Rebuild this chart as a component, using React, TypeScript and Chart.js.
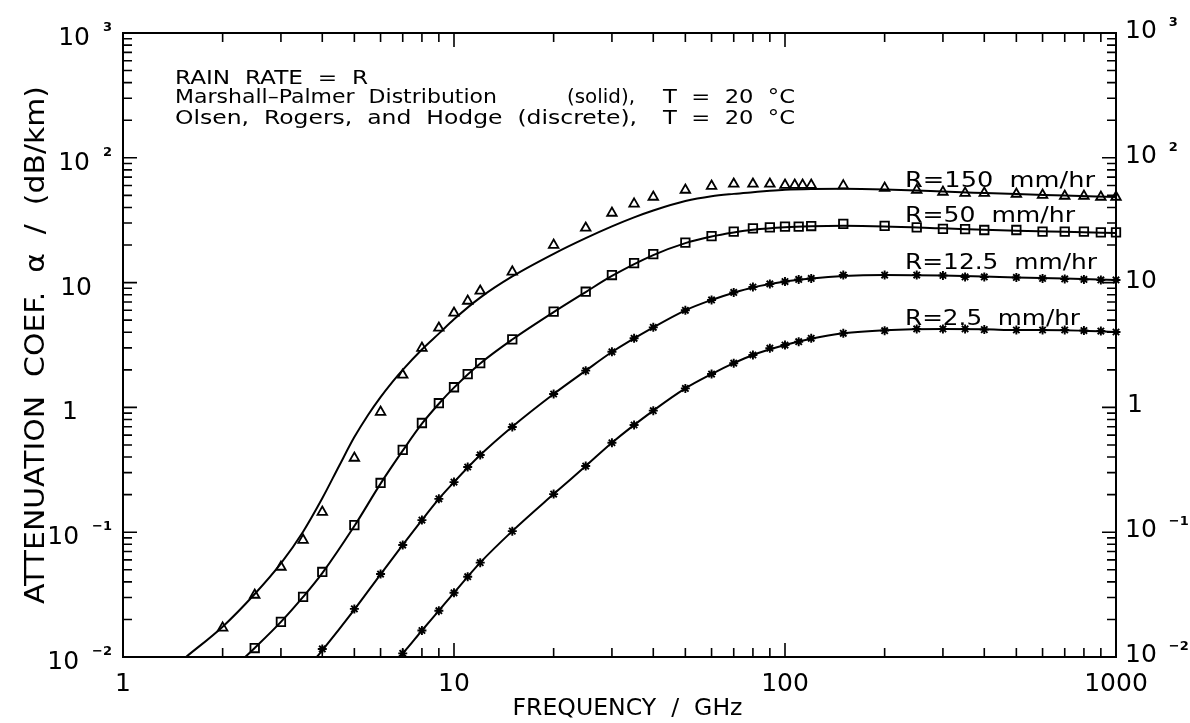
import React, { useEffect, useRef } from "react";
import { Chart, registerables } from "chart.js";
Chart.register(...registerables);

// ---- discrete data (Olsen, Rogers, Hodge) ----
const FREQ_150 = [2, 2.5, 3, 3.5, 4, 5, 6, 7, 8, 9, 10, 11, 12, 15, 20, 25, 30, 35, 40, 50, 60, 70, 80, 90, 100, 107, 113, 120, 150, 200, 250, 300, 350, 400, 500, 600, 700, 800, 900, 1000];
const DATA_150 = [0.0171, 0.0314, 0.0526, 0.0865, 0.145, 0.393, 0.918, 1.82, 2.99, 4.33, 5.71, 7.12, 8.57, 12.2, 20.0, 27.4, 36.1, 42.7, 48.5, 55.2, 59.4, 61.7, 61.7, 61.7, 60.5, 60.5, 60.5, 60.5, 59.9, 57.3, 55.2, 53.2, 52.2, 52.2, 51.3, 50.3, 49.4, 49.4, 48.5, 48.5];

const FREQ_50 = [2.5, 3, 3.5, 4, 5, 6, 7, 8, 9, 10, 11, 12, 15, 20, 25, 30, 35, 40, 50, 60, 70, 80, 90, 100, 110, 120, 150, 200, 250, 300, 350, 400, 500, 600, 700, 800, 900, 1000];
const DATA_50 = [0.0118, 0.0191, 0.0303, 0.048, 0.114, 0.248, 0.456, 0.75, 1.08, 1.45, 1.85, 2.26, 3.51, 5.85, 8.45, 11.5, 14.3, 16.9, 20.9, 23.6, 25.6, 27.2, 27.7, 28.1, 28.1, 28.4, 29.5, 28.5, 27.7, 26.9, 26.8, 26.4, 26.4, 25.6, 25.6, 25.6, 25.3, 25.3];

const FREQ_125 = [4, 5, 6, 7, 8, 9, 10, 11, 12, 15, 20, 25, 30, 35, 40, 50, 60, 70, 80, 90, 100, 110, 120, 150, 200, 250, 300, 350, 400, 500, 600, 700, 800, 900, 1000];
const DATA_125 = [0.0116, 0.0243, 0.0462, 0.0789, 0.125, 0.185, 0.252, 0.333, 0.416, 0.697, 1.28, 1.97, 2.79, 3.58, 4.38, 6.0, 7.26, 8.34, 9.22, 9.75, 10.2, 10.6, 10.8, 11.5, 11.5, 11.5, 11.4, 11.1, 11.1, 11.0, 10.8, 10.7, 10.6, 10.5, 10.5];

const FREQ_25 = [7, 8, 9, 10, 11, 12, 15, 20, 25, 30, 35, 40, 50, 60, 70, 80, 90, 100, 110, 120, 150, 200, 250, 300, 350, 400, 500, 600, 700, 800, 900, 1000];
const DATA_25 = [0.0107, 0.0163, 0.0235, 0.0327, 0.044, 0.057, 0.102, 0.202, 0.339, 0.521, 0.723, 0.942, 1.42, 1.85, 2.26, 2.63, 2.98, 3.16, 3.36, 3.58, 3.92, 4.12, 4.25, 4.25, 4.25, 4.2, 4.17, 4.17, 4.17, 4.13, 4.09, 4.02];

// ---- solid curves (Marshall-Palmer) ----
const CURVE_F_150 = [1.55, 2, 2.5, 3, 3.5, 4, 4.5, 5, 5.5, 6, 6.5, 7, 8, 9, 10, 12, 15, 20, 25, 30, 35, 40, 50, 60, 70, 80, 90, 100, 120, 150, 200, 250, 300, 400, 500, 700, 1000];
const CURVE_V_150 = [0.01, 0.0175, 0.032, 0.0563, 0.101, 0.187, 0.341, 0.578, 0.870, 1.21, 1.59, 2.00, 2.91, 3.90, 5.08, 7.58, 11.2, 17.0, 22.7, 28.2, 33.3, 37.8, 45.0, 49.2, 51.4, 53.0, 54.4, 55.4, 56.2, 56.4, 55.8, 54.8, 53.6, 52.2, 51.2, 49.9, 48.5];

const CURVE_F_50 = [2.34, 2.5, 3, 3.5, 4, 5, 6, 7, 8, 9, 10, 12, 15, 20, 25, 30, 40, 50, 60, 70, 80, 100, 120, 150, 200, 300, 400, 500, 700, 1000];
const CURVE_V_50 = [0.01, 0.0118, 0.0191, 0.0303, 0.047, 0.112, 0.245, 0.45, 0.74, 1.07, 1.44, 2.25, 3.5, 5.8, 8.4, 11.3, 16.6, 20.7, 23.4, 25.2, 26.5, 27.8, 28.3, 28.5, 28.2, 27.2, 26.5, 26.0, 25.5, 25.0];

const CURVE_F_125 = [3.85, 4, 5, 6, 7, 8, 9, 10, 12, 15, 20, 25, 30, 40, 50, 60, 70, 80, 100, 120, 150, 200, 300, 400, 500, 700, 1000];
const CURVE_V_125 = [0.01, 0.0113, 0.024, 0.046, 0.079, 0.125, 0.185, 0.252, 0.415, 0.70, 1.28, 1.97, 2.78, 4.38, 6.0, 7.26, 8.3, 9.15, 10.2, 10.8, 11.3, 11.5, 11.4, 11.2, 11.0, 10.8, 10.5];

const CURVE_F_25 = [6.8, 7, 8, 9, 10, 12, 15, 20, 25, 30, 40, 50, 60, 70, 80, 100, 120, 150, 200, 300, 400, 500, 700, 1000];
const CURVE_V_25 = [0.01, 0.0107, 0.0163, 0.0235, 0.0327, 0.057, 0.102, 0.202, 0.339, 0.521, 0.942, 1.42, 1.85, 2.26, 2.63, 3.16, 3.55, 3.92, 4.15, 4.25, 4.22, 4.17, 4.15, 4.02];

// ---- ticks & labels ----
const X_TICKS = [1, 10, 100, 1000];
const X_TICK_LABELS = ["1", "10", "100", "1000"];
const Y_TICKS = [1000, 100, 10, 1, 0.1, 0.01];
const Y_TICK_BASE = ["10", "10", "10", "1", "10", "10"];
const Y_TICK_SUP = ["3", "2", "", "", "\u22121", "\u22122"];

const SERIES_LABELS = ["R=150  mm/hr", "R=50  mm/hr", "R=12.5  mm/hr", "R=2.5  mm/hr"];
const NOTE_1 = "RAIN  RATE  =  R";
const NOTE_2A = "Marshall\u2013Palmer  Distribution";
const NOTE_2B = "(solid),";
const NOTE_3A = "Olsen,  Rogers,  and  Hodge  (discrete),";
const NOTE_T = "T  =  20  \u00b0C";
const X_TITLE = "FREQUENCY  /  GHz";
const Y_TITLE = "ATTENUATION  COEF.  \u03b1  /  (dB/km)";

const FONT = '"DejaVu Sans", sans-serif';

function drawText(ctx: CanvasRenderingContext2D, s: string, x: number, y: number, size: number, align: string, width?: number, bold?: boolean) {
  ctx.font = `${bold ? "bold " : ""}${size}px ${FONT}`;
  const w = ctx.measureText(s).width;
  const tw = width ?? w;
  const sx = tw / w;
  let left = x;
  if (align === "center") left = x - tw / 2;
  else if (align === "right") left = x - tw;
  ctx.save();
  ctx.translate(left, y);
  ctx.scale(sx, 1);
  ctx.textAlign = "left";
  ctx.textBaseline = "alphabetic";
  ctx.fillStyle = "#000";
  ctx.fillText(s, 0, 0);
  ctx.restore();
  return tw;
}

const decorPlugin = {
  id: "decor",
  afterDatasetsDraw(chart: any) {
    const ctx: CanvasRenderingContext2D = chart.ctx;
    const xs = chart.scales.x;
    const ys = chart.scales.y;
    const { left, right, top, bottom } = chart.chartArea;
    ctx.save();
    ctx.strokeStyle = "#000";
    ctx.lineWidth = 2;
    ctx.strokeRect(left, top, right - left, bottom - top);

    ctx.lineWidth = 1.6;
    ctx.beginPath();
    for (let d = 0; d < 3; d++) {
      for (let m = 1; m <= 9; m++) {
        const v = m * Math.pow(10, d);
        if (v <= 1 || v >= 1000) continue;
        const px = xs.getPixelForValue(v);
        const len = m === 1 ? 14 : 9;
        ctx.moveTo(px, bottom);
        ctx.lineTo(px, bottom - len);
        ctx.moveTo(px, top);
        ctx.lineTo(px, top + len);
      }
    }
    for (let d = -2; d < 3; d++) {
      for (let m = 1; m <= 9; m++) {
        const v = m * Math.pow(10, d);
        if (v <= 0.01 || v >= 1000) continue;
        const py = ys.getPixelForValue(v);
        const len = m === 1 ? 14 : 9;
        ctx.moveTo(left, py);
        ctx.lineTo(left + len, py);
        ctx.moveTo(right, py);
        ctx.lineTo(right - len, py);
      }
    }
    ctx.stroke();

    // x tick labels
    X_TICKS.forEach((v, i) => {
      drawText(ctx, X_TICK_LABELS[i], xs.getPixelForValue(v), bottom + 34, 25, "center");
    });
    // y tick labels (left and right)
    Y_TICKS.forEach((v, i) => {
      const py = ys.getPixelForValue(v);
      const base = Y_TICK_BASE[i];
      const sup = Y_TICK_SUP[i];
      if (sup) {
        ctx.font = `bold 13px ${FONT}`;
        const sw = ctx.measureText(sup).width;
        drawText(ctx, sup, 112, py - 2, 13, "right", undefined, true);
        drawText(ctx, base, 112 - sw - 13, py + 12, 25, "right");
        const bw = drawText(ctx, base, right + 9, py + 5, 25, "left");
        drawText(ctx, sup, right + 9 + bw + 12, py - 7, 13, "left", undefined, true);
      } else if (base.length === 1) {
        drawText(ctx, base, 70, py + 12, 25, "center");
        drawText(ctx, base, right + 11, py + 5, 25, "left");
      } else {
        drawText(ctx, base, 92, py + 12, 25, "right");
        drawText(ctx, base, right + 9, py + 5, 25, "left");
      }
    });

    // axis titles
    drawText(ctx, X_TITLE, (left + right) / 2 + 8, bottom + 58, 23, "center", 230);
    ctx.save();
    ctx.translate(44, (top + bottom) / 2);
    ctx.rotate(-Math.PI / 2);
    drawText(ctx, Y_TITLE, 0, 0, 26, "center", 518);
    ctx.restore();

    // notes
    drawText(ctx, NOTE_1, 175, 84, 20, "left", 193);
    drawText(ctx, NOTE_2A, 175, 103, 20, "left", 322);
    drawText(ctx, NOTE_2B, 567, 103, 20, "left", 68);
    drawText(ctx, NOTE_T, 663, 103, 20, "left", 132);
    drawText(ctx, NOTE_3A, 175, 124, 20, "left", 462);
    drawText(ctx, NOTE_T, 663, 124, 20, "left", 132);

    // series labels
    drawText(ctx, SERIES_LABELS[0], 905, 187, 22, "left", 190);
    drawText(ctx, SERIES_LABELS[1], 905, 222, 22, "left", 170);
    drawText(ctx, SERIES_LABELS[2], 905, 269, 22, "left", 192);
    drawText(ctx, SERIES_LABELS[3], 905, 325, 22, "left", 175);
    ctx.restore();
  },
};

function pts(f: number[], v: number[]) {
  return f.map((x, i) => ({ x, y: v[i] }));
}

function lineDs(f: number[], v: number[]) {
  return {
    data: pts(f, v),
    showLine: true,
    borderColor: "#000",
    borderWidth: 2,
    pointRadius: 0,
    cubicInterpolationMode: "monotone",
    clip: false,
    order: 2,
  };
}

function markDs(f: number[], v: number[], style: string, radius: number, bw: number) {
  return {
    data: pts(f, v),
    showLine: false,
    pointStyle: style,
    pointRadius: radius,
    pointBorderWidth: bw,
    pointBorderColor: "#000",
    pointBackgroundColor: "rgba(0,0,0,0)",
    borderColor: "#000",
    backgroundColor: "rgba(0,0,0,0)",
    clip: false,
    order: 1,
  };
}

export default function App() {
  const ref = useRef<HTMLCanvasElement | null>(null);
  useEffect(() => {
    if (!ref.current) return;
    const chart = new Chart(ref.current, {
      type: "scatter",
      data: {
        datasets: [
          lineDs(CURVE_F_150, CURVE_V_150),
          lineDs(CURVE_F_50, CURVE_V_50),
          lineDs(CURVE_F_125, CURVE_V_125),
          lineDs(CURVE_F_25, CURVE_V_25),
          markDs(FREQ_150, DATA_150, "triangle", 5.5, 1.8),
          markDs(FREQ_50, DATA_50, "rect", 6, 1.8),
          markDs(FREQ_125, DATA_125, "star", 4.5, 1.9),
          markDs(FREQ_25, DATA_25, "star", 4.5, 1.9),
        ] as any,
      },
      options: {
        responsive: false,
        animation: false,
        devicePixelRatio: 1,
        layout: { padding: { left: 123, right: 74, top: 33, bottom: 66 } },
        plugins: { legend: { display: false }, tooltip: { enabled: false } },
        events: [],
        scales: {
          x: { type: "logarithmic", min: 1, max: 1000, display: false },
          y: { type: "logarithmic", min: 0.01, max: 1000, display: false },
        },
      } as any,
      plugins: [decorPlugin],
    });
    return () => chart.destroy();
  }, []);
  return (
    <div style={{ position: "fixed", left: 0, top: 0, width: 1190, height: 723, background: "#fff" }}>
      <canvas ref={ref} width={1190} height={723} style={{ display: "block" }} />
    </div>
  );
}
